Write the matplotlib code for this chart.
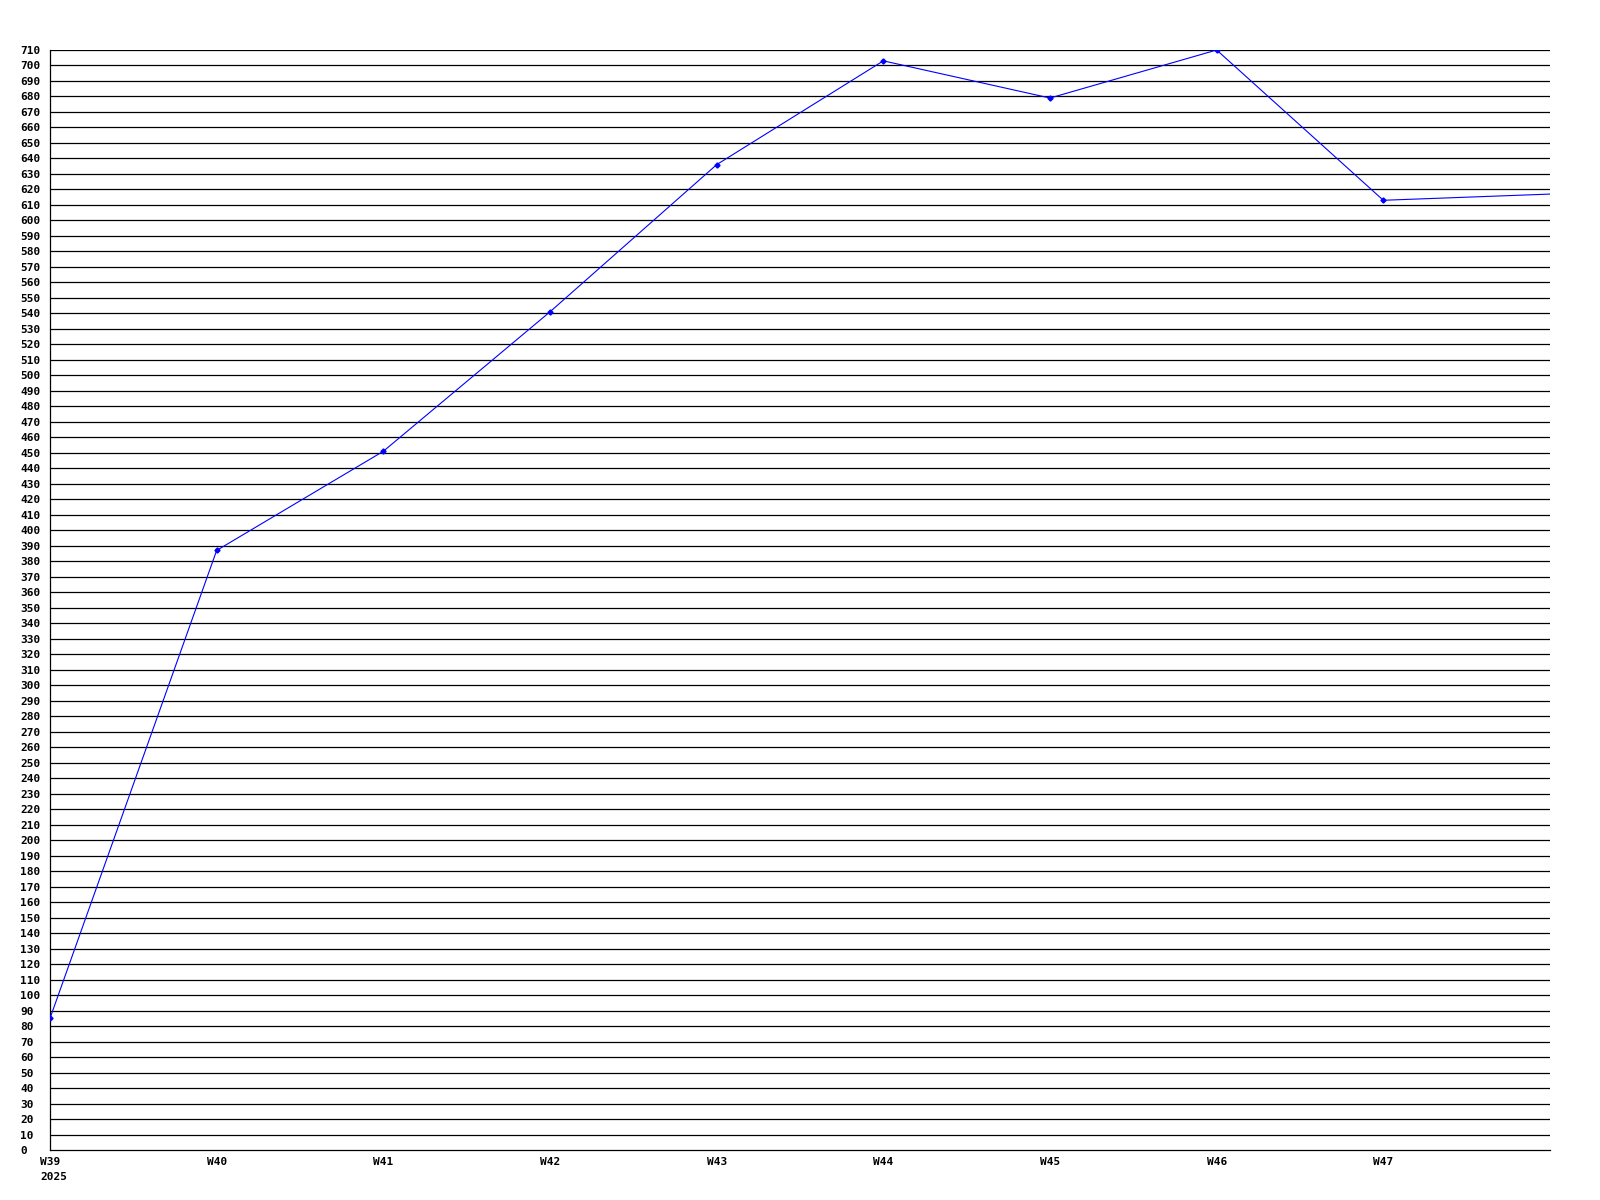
import numpy as np
import matplotlib
matplotlib.use('Agg')
import matplotlib.pyplot as plt

# Weekly values (last point is the running week)
weeks = ['W39', 'W40', 'W41', 'W42', 'W43', 'W44', 'W45', 'W46', 'W47', 'W48']
values = [85, 387, 451, 541, 636, 703, 679, 710, 613, 617]
year_label = '2025'
y_ticks = list(range(0, 711, 10))

fig = plt.figure(figsize=(16, 12), dpi=100)
ax = fig.add_axes([50 / 1600, 50 / 1200, 1500 / 1600, 1100 / 1200])

x = np.arange(len(weeks))
ax.plot(x, values, color='#0000ff', linewidth=0.8, marker='D', markersize=2.6,
        markevery=list(range(len(weeks) - 1)), clip_on=True, zorder=3)

ax.set_xlim(0, len(weeks) - 1)
ax.set_ylim(0, 710)

# horizontal grid at every 10
for v in y_ticks[1:]:
    ax.axhline(v, color='black', linewidth=0.9, zorder=1)

ax.set_yticks(y_ticks)
ax.set_yticklabels([str(v) for v in y_ticks])
ax.set_xticks(x[:-1])
ax.set_xticklabels(weeks[:-1])

font = dict(family='DejaVu Sans Mono', weight='bold', size=8)
for lab in ax.get_yticklabels():
    lab.set_fontproperties(matplotlib.font_manager.FontProperties(**font))
    lab.set_horizontalalignment('left')
for lab in ax.get_xticklabels():
    lab.set_fontproperties(matplotlib.font_manager.FontProperties(**font))

ax.tick_params(axis='y', length=0, pad=21.6)
ax.tick_params(axis='x', length=0, pad=5)

ax.annotate(year_label, xy=(0, 0), xycoords='data', xytext=(-7.2, -19.4),
            textcoords='offset points', ha='left', va='center',
            annotation_clip=False, **font)

for side in ['top', 'right']:
    ax.spines[side].set_visible(False)
ax.spines['left'].set_linewidth(0.9)
ax.spines['bottom'].set_linewidth(0.9)

fig.savefig('out.png', dpi=100)
